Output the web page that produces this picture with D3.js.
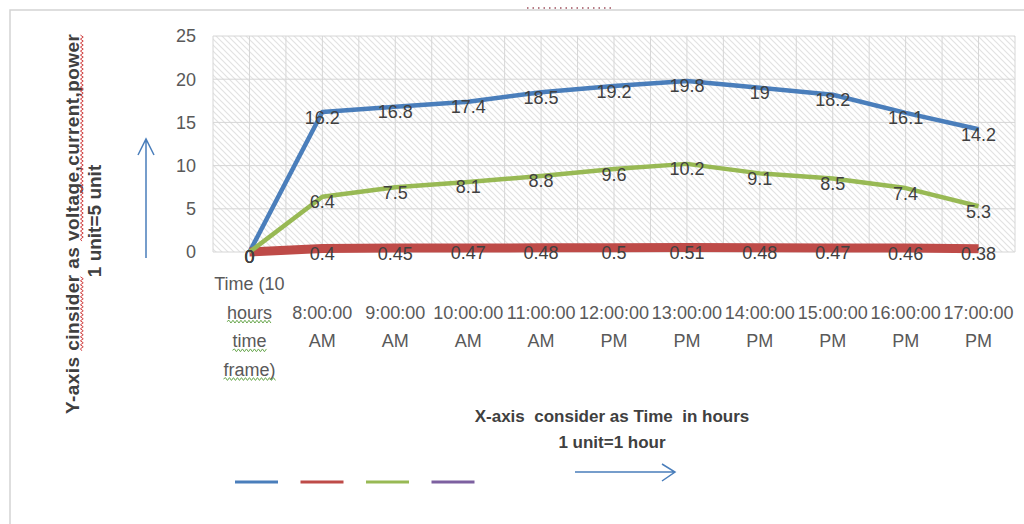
<!DOCTYPE html>
<html lang="en">
<head>
<meta charset="UTF-8">
<script src="https://cdn.jsdelivr.net/npm/d3@7"></script>
<style>
    body { margin: 0; background: #fff; }
    text { font-family: 'Liberation Sans', Arial, sans-serif; }
</style>
</head>
<body>
<svg id="chart" width="1024" height="524"></svg>
<script>
    // category labels, already wrapped the way the picture shows them
    const timeLabels = [
        ["Time (10", "hours", "time", "frame)"],
        ["8:00:00", "AM"], ["9:00:00", "AM"], ["10:00:00", "AM"], ["11:00:00", "AM"],
        ["12:00:00", "PM"], ["13:00:00", "PM"], ["14:00:00", "PM"], ["15:00:00", "PM"],
        ["16:00:00", "PM"], ["17:00:00", "PM"]
    ];
    const voltage = [0, 16.2, 16.8, 17.4, 18.5, 19.2, 19.8, 19, 18.2, 16.1, 14.2];
    const current = [0, 0.4, 0.45, 0.47, 0.48, 0.5, 0.51, 0.48, 0.47, 0.46, 0.38];
    const power = [0, 6.4, 7.5, 8.1, 8.8, 9.6, 10.2, 9.1, 8.5, 7.4, 5.3];
    const yTicks = [0, 5, 10, 15, 20, 25];
    const flaggedWords = ["hours", "time", "frame)"];

    const series = [
        {name: "voltage", values: voltage, color: "#4a7ebb", width: 4.5},
        {name: "current", values: current, color: "#be4b48", width: 9},
        {name: "power", values: power, color: "#98b954", width: 4.5},
        {name: "empty", values: [], color: "#7d60a0", width: 3}
    ];

    const svg = d3.select("#chart");
    const plot = {left: 213, right: 1015, top: 36, bottom: 252};

    const x = d3.scaleBand()
        .domain(d3.range(timeLabels.length))
        .range([plot.left, plot.right]);
    const cx = i => x(i) + x.bandwidth() / 2;
    const y = d3.scaleLinear().domain([0, 25]).range([plot.bottom, plot.top]);

    function squiggle(x1, x2, yy) {
        let d = `M${x1},${yy}`;
        let up = true;
        for (let p = x1 + 2; p <= x2; p += 2) {
            d += `L${p},${yy + (up ? -1.4 : 1.4)}`;
            up = !up;
        }
        return d;
    }

    // outer frame of the pasted picture
    svg.append("path")
        .attr("d", "M10,524V10H1024")
        .attr("fill", "none")
        .attr("stroke", "#d4d4d4")
        .attr("stroke-width", 1.5);
    svg.append("line")
        .attr("x1", 527).attr("x2", 615).attr("y1", 8).attr("y2", 8)
        .attr("stroke", "#a0505e")
        .attr("stroke-width", 1.5)
        .attr("stroke-dasharray", "1.5,4");

    // hatched plot background
    const pat = svg.append("defs").append("pattern")
        .attr("id", "hatch")
        .attr("patternUnits", "userSpaceOnUse")
        .attr("width", 6).attr("height", 6);
    pat.append("path")
        .attr("d", "M-1,-1L7,7M-1,5L1,7M5,-1L7,1")
        .attr("stroke", "#e2e2e2")
        .attr("stroke-width", 1.2);
    svg.append("rect")
        .attr("x", plot.left).attr("y", plot.top)
        .attr("width", plot.right - plot.left)
        .attr("height", plot.bottom - plot.top)
        .attr("fill", "url(#hatch)");

    // gridlines
    const vGrid = d3.range(timeLabels.length).flatMap(i => [x(i), cx(i)]).concat([plot.right]);
    svg.append("g").selectAll("line")
        .data(vGrid)
        .enter().append("line")
        .attr("x1", d => d).attr("x2", d => d)
        .attr("y1", plot.top).attr("y2", plot.bottom)
        .attr("stroke", "#d6d6d6");
    svg.append("g").selectAll("line")
        .data(yTicks)
        .enter().append("line")
        .attr("x1", plot.left).attr("x2", plot.right)
        .attr("y1", d => y(d)).attr("y2", d => y(d))
        .attr("stroke", "#d6d6d6");

    // y tick labels
    svg.append("g").selectAll("text")
        .data(yTicks)
        .enter().append("text")
        .attr("x", 196)
        .attr("y", d => y(d))
        .attr("dy", "0.36em")
        .attr("text-anchor", "end")
        .attr("font-size", 18)
        .attr("fill", "#595959")
        .text(d => d);

    // x tick labels, one text per wrapped line
    const lineH = 28.7, labelMid = 326.5;
    timeLabels.forEach((lines, i) => {
        lines.forEach((ln, k) => {
            const ly = labelMid + (k - (lines.length - 1) / 2) * lineH;
            const t = svg.append("text")
                .attr("x", cx(i))
                .attr("y", ly)
                .attr("dy", "0.36em")
                .attr("text-anchor", "middle")
                .attr("font-size", 18)
                .attr("fill", "#595959")
                .text(ln);
            if (i === 0 && flaggedWords.includes(ln)) {
                const b = t.node().getBBox();
                svg.append("path")
                    .attr("d", squiggle(b.x, b.x + b.width, b.y + b.height - 1))
                    .attr("fill", "none")
                    .attr("stroke", "#6aa84f")
                    .attr("stroke-width", 1);
            }
        });
    });

    // series lines
    const line = d3.line()
        .x((d, i) => cx(i))
        .y(d => y(d));
    series.filter(s => s.values.length).forEach(s => {
        svg.append("path")
            .datum(s.values)
            .attr("fill", "none")
            .attr("stroke", s.color)
            .attr("stroke-width", s.width)
            .attr("stroke-linejoin", "round")
            .attr("d", line);
    });

    // data labels
    series.filter(s => s.values.length).forEach(s => {
        svg.append("g").selectAll("text")
            .data(s.values)
            .enter().append("text")
            .attr("x", (d, i) => cx(i))
            .attr("y", d => y(d) + 5)
            .attr("dy", "0.36em")
            .attr("text-anchor", "middle")
            .attr("font-size", 18)
            .attr("fill", "#404040")
            .text(d => d);
    });

    // y axis title
    const yTitle = svg.append("g").attr("transform", "translate(72,224) rotate(-90)");
    const yt1 = yTitle.append("text")
        .attr("text-anchor", "middle")
        .attr("dy", "0.36em")
        .attr("font-size", 19)
        .attr("font-weight", "bold")
        .attr("fill", "#404040")
        .attr("textLength", 380)
        .text("Y-axis cinsider as voltage,current,power");
    yTitle.append("text")
        .attr("y", 22)
        .attr("x", 3)
        .attr("text-anchor", "middle")
        .attr("dy", "0.36em")
        .attr("font-size", 19)
        .attr("font-weight", "bold")
        .attr("fill", "#404040")
        .text("1 unit=5 unit");
    const txt = yt1.text();
    ["cinsider", "voltage,current,power"].forEach(w => {
        const s = txt.indexOf(w);
        const a = yt1.node().getExtentOfChar(s);
        const b = yt1.node().getExtentOfChar(s + w.length - 1);
        yTitle.append("path")
            .attr("d", squiggle(a.x, b.x + b.width, a.y + a.height - 1))
            .attr("fill", "none")
            .attr("stroke", "#d04040")
            .attr("stroke-width", 1);
    });

    // x axis title
    svg.append("text")
        .attr("x", 612).attr("y", 416)
        .attr("dy", "0.36em")
        .attr("text-anchor", "middle")
        .attr("font-size", 17)
        .attr("font-weight", "bold")
        .attr("fill", "#404040")
        .style("white-space", "pre")
        .text("X-axis  consider as Time  in hours");
    svg.append("text")
        .attr("x", 612).attr("y", 442)
        .attr("dy", "0.36em")
        .attr("text-anchor", "middle")
        .attr("font-size", 17)
        .attr("font-weight", "bold")
        .attr("fill", "#404040")
        .text("1 unit=1 hour");

    // hand drawn arrows
    const arrow = svg.append("g")
        .attr("fill", "none")
        .attr("stroke", "#4a7ebb")
        .attr("stroke-width", 1.5);
    arrow.append("path").attr("d", "M146,258V139M138,155L146,139L154,155");
    arrow.append("path").attr("d", "M575,472H675M662,464L675,472L662,481");

    // legend without entries text
    svg.append("g").selectAll("line")
        .data(series)
        .enter().append("line")
        .attr("x1", (d, i) => 235 + i * 65.5)
        .attr("x2", (d, i) => 278 + i * 65.5)
        .attr("y1", 482).attr("y2", 482)
        .attr("stroke", d => d.color)
        .attr("stroke-width", 3);
</script>
</body>
</html>
